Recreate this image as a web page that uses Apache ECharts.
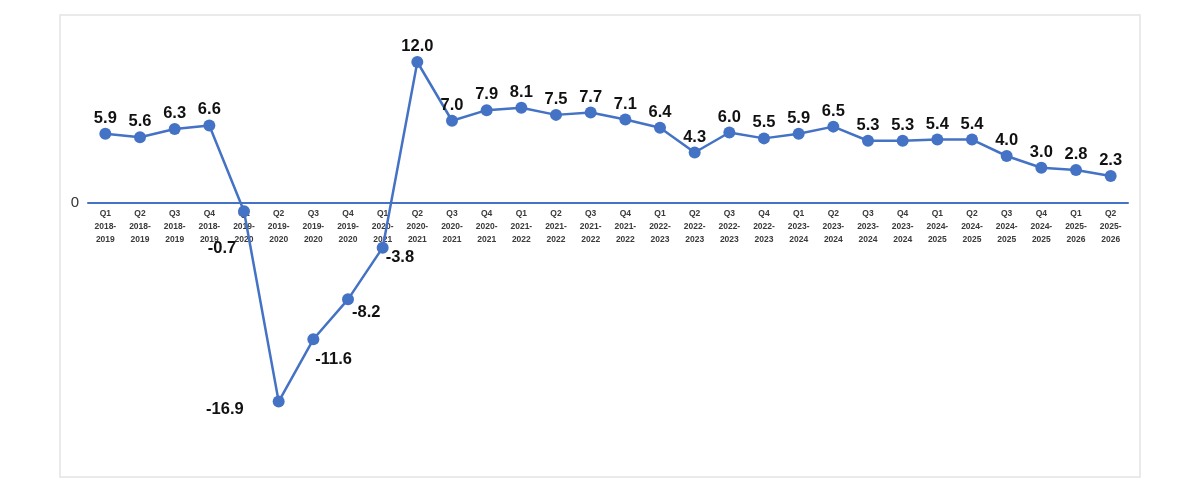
<!DOCTYPE html>
<html>
<head>
<meta charset="utf-8">
<script src="https://cdn.jsdelivr.net/npm/echarts@6/dist/echarts.min.js"></script>
<style>
  html, body { margin: 0; padding: 0; background: #fff; }
  #chart { width: 1200px; height: 486px; }
</style>
</head>
<body>
<div id="chart"></div>
<script>
var quarters = ['Q1','Q2','Q3','Q4','Q1','Q2','Q3','Q4','Q1','Q2','Q3','Q4','Q1','Q2','Q3','Q4',
                'Q1','Q2','Q3','Q4','Q1','Q2','Q3','Q4','Q1','Q2','Q3','Q4','Q1','Q2'];
var fiscalYears = ['2018-2019','2018-2019','2018-2019','2018-2019',
                   '2019-2020','2019-2020','2019-2020','2019-2020',
                   '2020-2021','2020-2021','2020-2021','2020-2021',
                   '2021-2022','2021-2022','2021-2022','2021-2022',
                   '2022-2023','2022-2023','2022-2023','2022-2023',
                   '2023-2024','2023-2024','2023-2024','2023-2024',
                   '2024-2025','2024-2025','2024-2025','2024-2025',
                   '2025-2026','2025-2026'];
var growth = [5.9, 5.6, 6.3, 6.6, -0.7, -16.9, -11.6, -8.2, -3.8, 12.0,
              7.0, 7.9, 8.1, 7.5, 7.7, 7.1, 6.4, 4.3, 6.0, 5.5,
              5.9, 6.5, 5.3, 5.3, 5.4, 5.4, 4.0, 3.0, 2.8, 2.3];

// label placement for the negative quarters
var labelTweaks = {
    4: { position: 'bottom', offset: [-22, 22] },
    5: { position: 'left', offset: [-28, 8] },
    6: { position: 'right', offset: [-5, 20] },
    7: { position: 'right', offset: [-3, 13] },
    8: { position: 'right', offset: [-4, 10] }
};

var categories = quarters.map(function (q, i) {
    var parts = fiscalYears[i].split('-');
    return q + '\n' + parts[0] + '-\n' + parts[1];
});

var seriesData = growth.map(function (v, i) {
    var item = { value: v };
    if (labelTweaks[i]) item.label = labelTweaks[i];
    return item;
});

var blue = '#4472C4';
var myChart = echarts.init(document.getElementById('chart'));
myChart.setOption({
    animation: false,
    graphic: [{
        type: 'rect',
        shape: { x: 60, y: 15, width: 1080, height: 462 },
        style: { fill: 'none', stroke: '#e3e3e3', lineWidth: 1.5 },
        z: -1
    }],
    grid: { left: 88, right: 72, top: 38.5, bottom: 48, containLabel: false },
    xAxis: {
        type: 'category',
        data: categories,
        boundaryGap: true,
        offset: -235,
        axisLine: { onZero: false, lineStyle: { color: blue, width: 2 } },
        axisTick: { show: false },
        axisLabel: {
            interval: 0,
            fontSize: 8.5,
            fontWeight: 'bold',
            lineHeight: 13,
            color: '#3a3a3a',
            margin: 4,
            fontFamily: 'Liberation Sans, Arial, sans-serif'
        }
    },
    yAxis: {
        type: 'value',
        min: -20,
        max: 14,
        interval: 2,
        axisLine: { show: false },
        axisTick: { show: false },
        splitLine: { show: false },
        axisLabel: {
            fontSize: 15,
            color: '#333',
            margin: 9,
            fontFamily: 'Liberation Sans, Arial, sans-serif',
            formatter: function (v) { return v === 0 ? '0' : ''; }
        }
    },
    series: [{
        type: 'line',
        data: seriesData,
        symbol: 'circle',
        symbolSize: 12,
        lineStyle: { color: blue, width: 2.5 },
        itemStyle: { color: blue },
        label: {
            show: true,
            position: 'top',
            distance: 1,
            fontSize: 16.5,
            fontWeight: 'bold',
            color: '#111',
            fontFamily: 'Liberation Sans, Arial, sans-serif',
            formatter: function (p) { return p.value.toFixed(1); }
        }
    }]
});
window.addEventListener('resize', function () {
    myChart.resize();
});
</script>
</body>
</html>
